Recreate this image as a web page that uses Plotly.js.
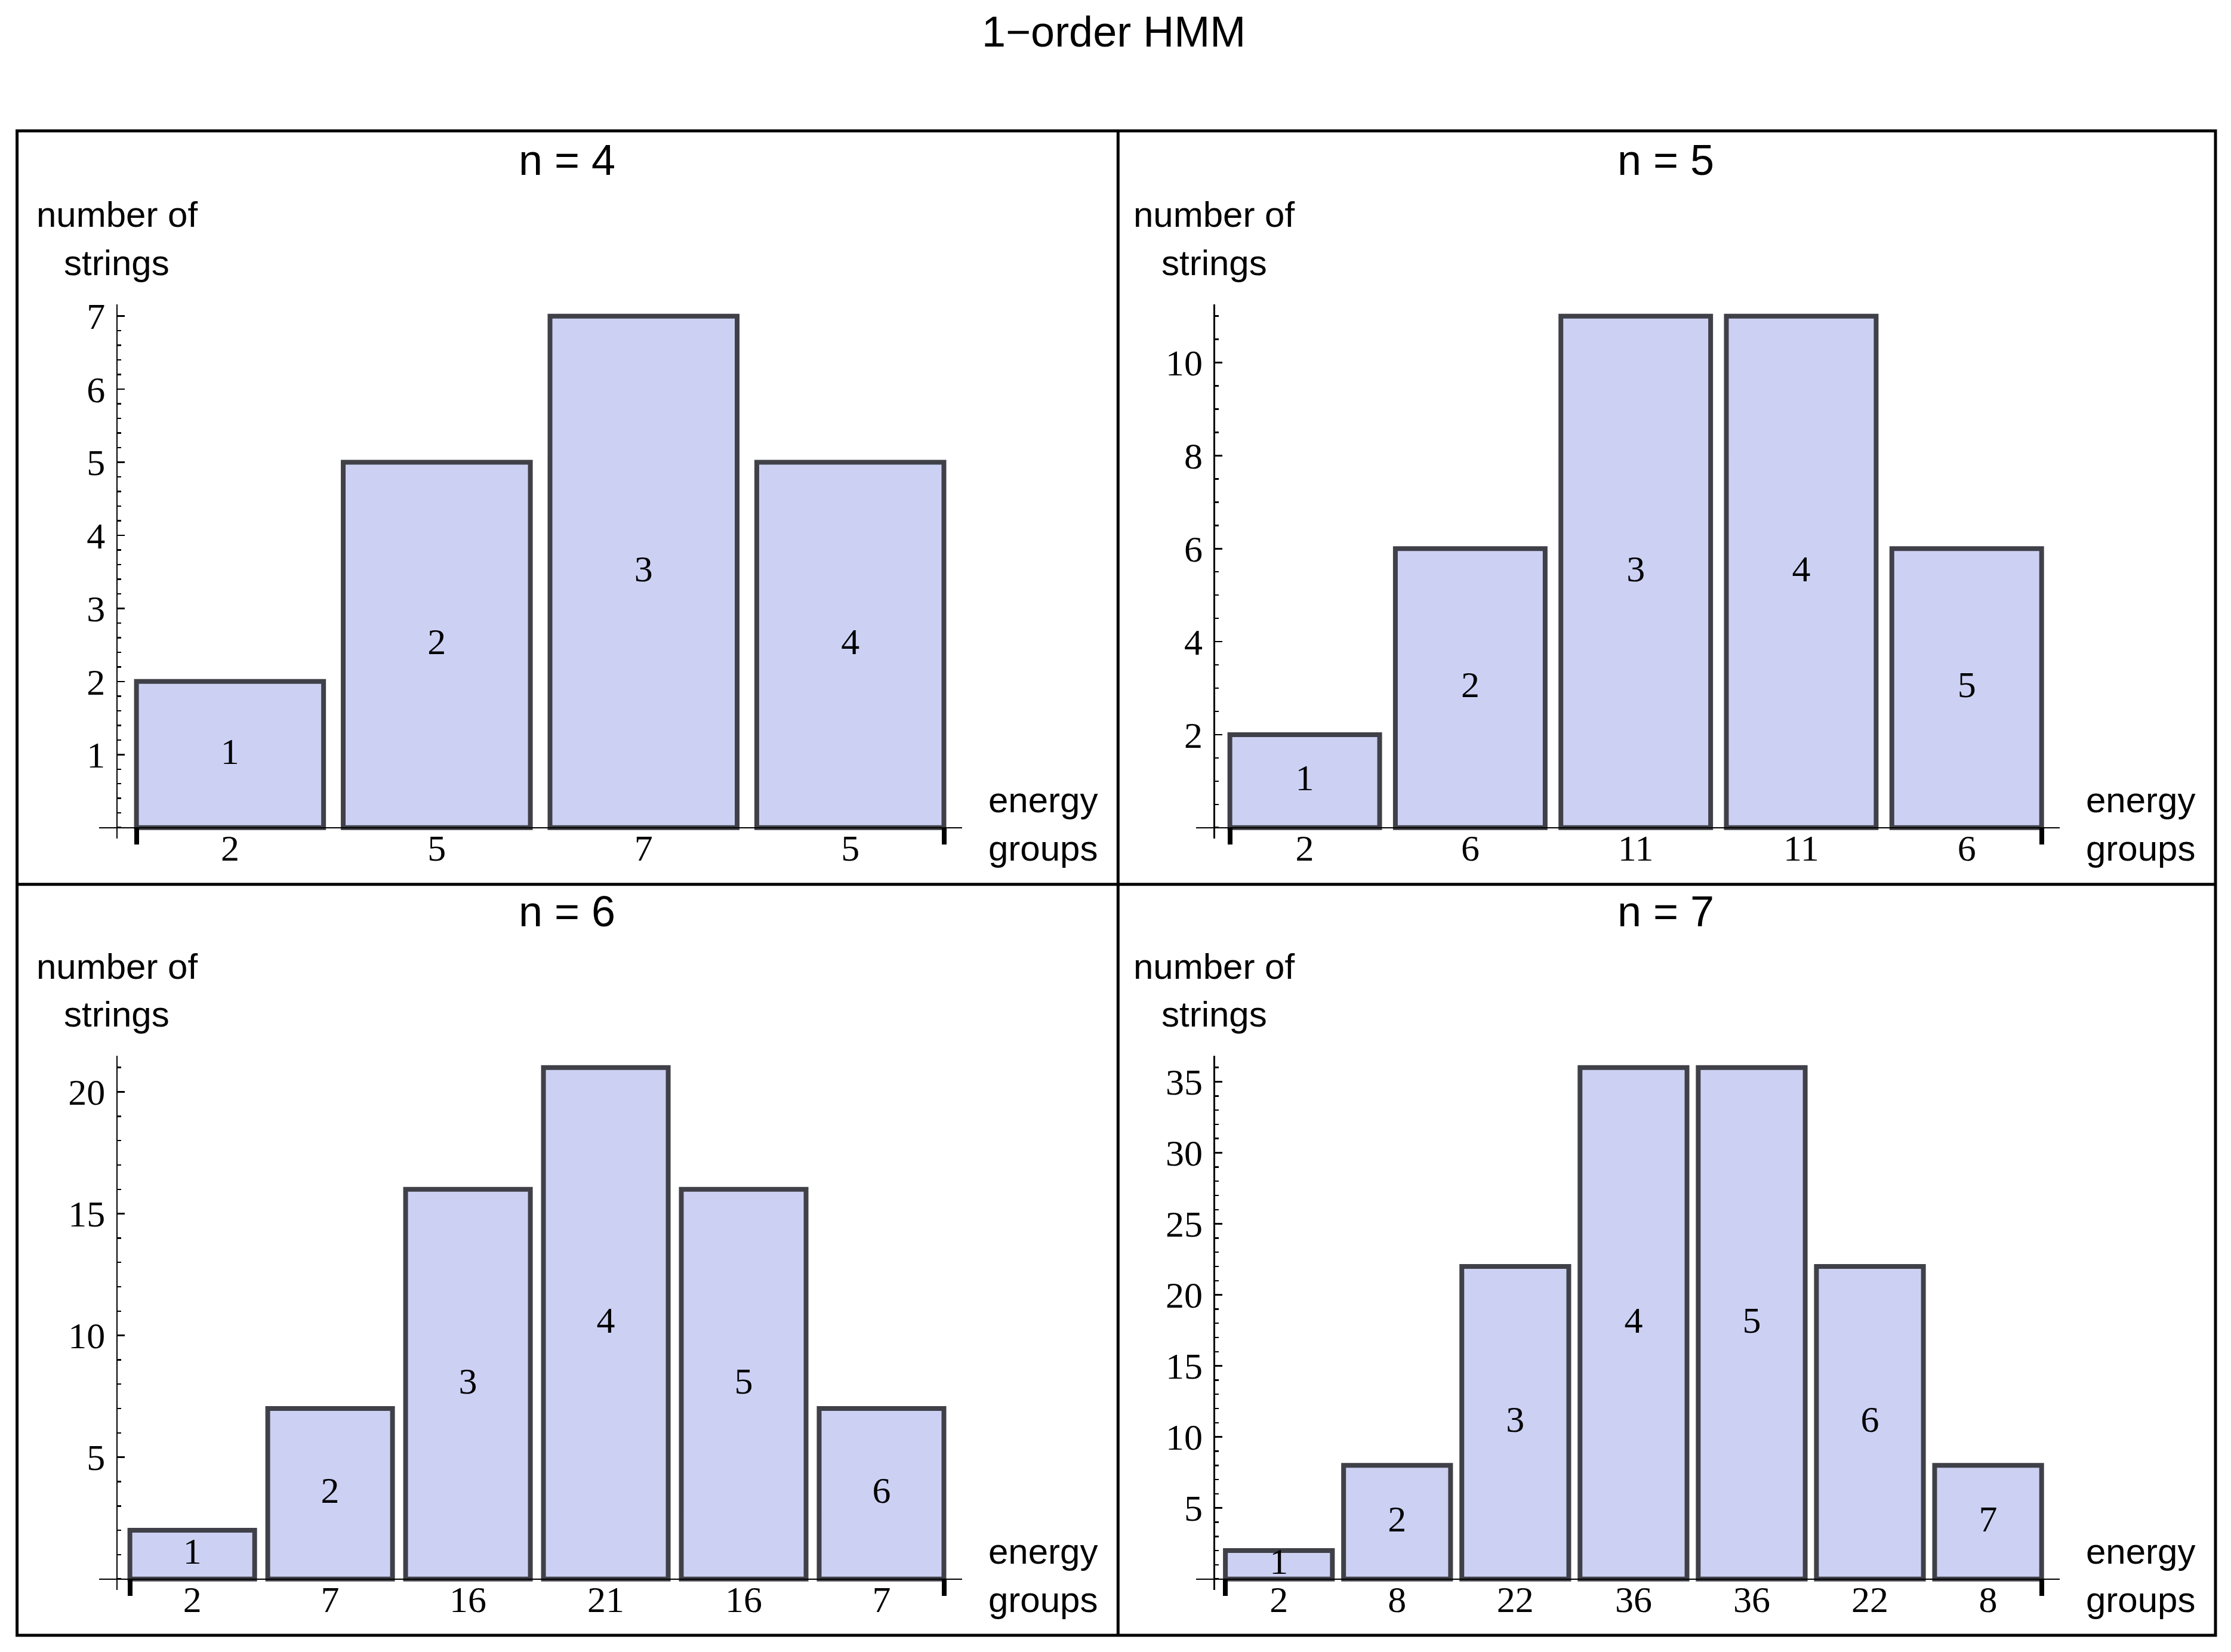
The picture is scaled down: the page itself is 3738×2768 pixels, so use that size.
<!DOCTYPE html>
<html>
<head>
<meta charset="utf-8">
<script src="https://cdn.plot.ly/plotly-3.0.1.min.js"></script>
<style>
  html, body { margin: 0; padding: 0; background: #fff; }
  #plot { width: 3738px; height: 2768px; }
</style>
</head>
<body>
<div id="plot"></div>
<script>
// number of strings in each energy group, one array per chain length n
const nValues = [4, 5, 6, 7];
const counts4 = [2, 5, 7, 5];
const counts5 = [2, 6, 11, 11, 6];
const counts6 = [2, 7, 16, 21, 16, 7];
const counts7 = [2, 8, 22, 36, 36, 22, 8];

// y tick labels and minor tick step per panel
const yTicks4 = [1, 2, 3, 4, 5, 6, 7];
const yTicks5 = [2, 4, 6, 8, 10];
const yTicks6 = [5, 10, 15, 20];
const yTicks7 = [5, 10, 15, 20, 25, 30, 35];
const yMinor = [0.2, 0.5, 1, 1];

const chartTitle = '1\u2212order HMM';
const yLabel = ['number of', 'strings'];
const xLabel = ['energy', 'groups'];

// page geometry (pixels)
const W = 3738, H = 2768;
const fx = px => px / W;
const fy = py => 1 - py / H;

const BAR_W = 0.905;        // bar width in category units
const FILL = '#ccd1f4';
const EDGE = '#404048';
const SERIF = 'Liberation Serif';
const SANS = 'Liberation Sans';
const NUM_SIZE = 62;

// column: y-axis x, right edge of last bar, title centre, x-label centre
const cols = [
  { x0: 195.7, x1: 1581.5, mid: 950, lab: 1747 },
  { x0: 2034.3, x1: 3420.7, mid: 2791, lab: 3586 }
];
// row: pixel y of the zero line, and offset for texts
const rows = [
  { z: 1386.7, off: 0 },
  { z: 2645.7, off: 1259 }
];

const panels = [
  { counts: counts4, ticks: yTicks4 },
  { counts: counts5, ticks: yTicks5 },
  { counts: counts6, ticks: yTicks6 },
  { counts: counts7, ticks: yTicks7 }
];

const traces = [];
const layout = {
  width: W,
  height: H,
  margin: { l: 0, r: 0, t: 0, b: 0 },
  paper_bgcolor: '#fff',
  plot_bgcolor: 'rgba(0,0,0,0)',
  showlegend: false,
  font: { family: SANS, color: '#000' },
  shapes: [],
  annotations: []
};

panels.forEach((p, i) => {
  const col = cols[i % 2];
  const row = rows[Math.floor(i / 2)];
  const n = p.counts.length;
  const pos = p.counts.map((c, k) => k + 1);
  const xid = i + 1, oid = i + 5;
  const xs = xid === 1 ? '' : xid;

  // scales: bars run from the y axis to x1, max bar is 857px tall
  const kx = (col.x1 - col.x0) / n;
  const ky = 857 / Math.max(...p.counts);

  traces.push({
    type: 'bar',
    x: pos,
    y: p.counts,
    width: BAR_W,
    xaxis: 'x' + xs,
    yaxis: 'y' + xs,
    marker: { color: FILL, line: { color: EDGE, width: 8 } },
    hoverinfo: 'skip'
  });

  // group index written in the middle of each bar
  traces.push({
    type: 'scatter',
    mode: 'text',
    x: pos,
    y: p.counts.map(c => c / 2),
    text: pos.map(String),
    textposition: 'middle center',
    textfont: { family: SERIF, size: NUM_SIZE, color: '#000' },
    xaxis: 'x' + oid,
    yaxis: 'y' + xs,
    cliponaxis: false,
    hoverinfo: 'skip'
  });

  const xRange = [BAR_W / 2 - 30 / kx, n + BAR_W / 2 + 30 / kx];

  layout['xaxis' + xs] = {
    domain: [fx(col.x0 - 30), fx(col.x1 + 30)],
    range: xRange,
    anchor: 'free',
    position: fy(row.z),
    showline: true,
    linecolor: '#000',
    linewidth: 2.5,
    tickmode: 'array',
    tickvals: pos,
    ticktext: p.counts.map(String),
    ticks: '',
    ticklabelstandoff: -21,
    tickfont: { family: SERIF, size: NUM_SIZE, color: '#000' },
    showgrid: false,
    zeroline: false,
    fixedrange: true
  };

  // overlay axis: the two heavy end ticks under the first and last bar
  layout['xaxis' + oid] = {
    overlaying: 'x' + xs,
    range: xRange,
    anchor: 'free',
    position: fy(row.z),
    showline: false,
    tickmode: 'array',
    tickvals: [1 - BAR_W / 2, n + BAR_W / 2],
    ticks: 'outside',
    ticklen: 27,
    tickwidth: 8,
    tickcolor: '#000',
    showticklabels: false,
    showgrid: false,
    zeroline: false,
    fixedrange: true
  };

  layout['yaxis' + xs] = {
    domain: [fy(row.z + 18), fy(row.z - 877)],
    range: [-18 / ky, 877 / ky],
    anchor: 'free',
    position: fx(col.x0),
    showline: true,
    linecolor: '#000',
    linewidth: 2.5,
    tickmode: 'array',
    tickvals: p.ticks,
    ticks: 'inside',
    ticklen: 12,
    tickwidth: 2.5,
    tickcolor: '#000',
    minor: { tick0: 0, dtick: yMinor[i], ticks: 'inside', ticklen: 6, tickwidth: 2.5, tickcolor: '#000', showgrid: false },
    tickfont: { family: SERIF, size: NUM_SIZE, color: '#000' },
    ticklabelstandoff: 6,
    showgrid: false,
    zeroline: false,
    fixedrange: true
  };

  const txt = (text, x, y, size) => ({
    text, x: fx(x), y: fy(y), xref: 'paper', yref: 'paper',
    xanchor: 'center', yanchor: 'middle', showarrow: false,
    font: { family: SANS, size, color: '#000' }
  });
  layout.annotations.push(txt('n = ' + nValues[i], col.mid, 267.5 + row.off, 72));
  layout.annotations.push(txt(yLabel[0], col.x0, 360 + row.off, 60));
  layout.annotations.push(txt(yLabel[1], col.x0, 440 + row.off, 60));
  layout.annotations.push(txt(xLabel[0], col.lab, 1340 + row.off, 60));
  layout.annotations.push(txt(xLabel[1], col.lab, 1421 + row.off, 60));
});

layout.annotations.push({
  text: chartTitle, x: fx(1866), y: fy(53), xref: 'paper', yref: 'paper',
  xanchor: 'center', yanchor: 'middle', showarrow: false,
  font: { family: SANS, size: 72, color: '#000' }
});

// frame round the grid of panels
const frame = { color: '#000', width: 5 };
layout.shapes.push(
  { type: 'rect', xref: 'paper', yref: 'paper', x0: fx(28.6), x1: fx(3712), y0: fy(2740), y1: fy(219.3), line: frame },
  { type: 'line', xref: 'paper', yref: 'paper', x0: fx(1873.3), x1: fx(1873.3), y0: fy(2740), y1: fy(219.3), line: frame },
  { type: 'line', xref: 'paper', yref: 'paper', x0: fx(28.6), x1: fx(3712), y0: fy(1481.7), y1: fy(1481.7), line: frame }
);

Plotly.newPlot('plot', traces, layout, { displayModeBar: false, staticPlot: true });
</script>
</body>
</html>
